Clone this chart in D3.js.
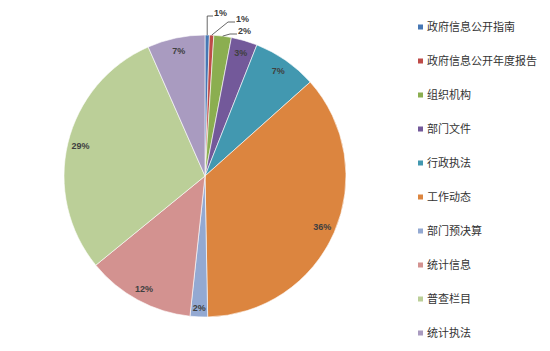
<!DOCTYPE html>
<html>
<head>
<meta charset="utf-8">
<script src="https://cdn.jsdelivr.net/npm/d3@7"></script>
<style>
    body { margin: 0; background: #fff; }
    svg { display: block; }
</style>
</head>
<body>
<div id="chart"></div>
<script>

// chart data (percent shares)
let categories = ["政府信息公开指南", "政府信息公开年度报告", "组织机构", "部门文件", "行政执法",
    "工作动态", "部门预决算", "统计信息", "普查栏目", "统计执法"];
let values = [0.5, 0.5, 2.0, 3.0, 7.4, 36.3, 2.0, 12.4, 29.3, 6.6];
let colors = ["#4677b4", "#be4b48", "#8bae50", "#73599a", "#4298b0",
    "#dc853f", "#93a9d2", "#d39290", "#bbcf98", "#a99bc0"];

// labels that sit outside with leader lines (index -> label position)
let outsideLabels = {0: [214, 13], 1: [236, 19], 2: [238, 31]};

let width = 550, height = 351;
let cx = 205, cy = 176, radius = 141;

let svg = d3.select("#chart").append("svg")
    .attr("width", width)
    .attr("height", height);

let data = categories.map((c, i) => ({name: c, value: values[i], color: colors[i]}));

let pie = d3.pie().sort(null).value(d => d.value);
let arc = d3.arc().innerRadius(0).outerRadius(radius);
let labelArc = d3.arc().innerRadius(128).outerRadius(128);

let arcs = pie(data);

let g = svg.append("g")
    .attr("transform", "translate(" + cx + "," + cy + ")");

// slices
g.selectAll("path.slice")
    .data(arcs)
    .enter()
    .append("path")
    .attr("class", "slice")
    .attr("d", arc)
    .attr("fill", d => d.data.color)
    .attr("stroke", "#fff")
    .attr("stroke-width", 0.6);

let fmt = v => Math.round(v) + "%";

// inside labels
g.selectAll("text.inner")
    .data(arcs.filter(d => !(d.index in outsideLabels)))
    .enter()
    .append("text")
    .attr("class", "inner")
    .attr("transform", d => {
        let p = labelArc.centroid(d);
        // narrow slice at the bottom sits a bit lower
        let k = (d.endAngle - d.startAngle) < 0.15 ? 132 / 128 : 1;
        return "translate(" + (p[0] * k) + "," + (p[1] * k) + ")";
    })
    .attr("text-anchor", "middle")
    .attr("dy", "0.35em")
    .style("font-family", "'Liberation Sans', Arial, sans-serif")
    .style("font-size", "9px")
    .style("font-weight", "bold")
    .style("fill", "#404040")
    .text(d => fmt(d.data.value));

// outside labels with leader lines
arcs.filter(d => d.index in outsideLabels).forEach(d => {
    let pos = outsideLabels[d.index];
    let mid = (d.startAngle + d.endAngle) / 2;
    let sx = cx + Math.sin(mid) * radius;
    let sy = cy - Math.cos(mid) * radius;
    let lx = pos[0] - 1, ly = pos[1] + 3;
    let bend = d.index === 0 ? [sx, ly] : [lx - 7, ly];
    svg.append("polyline")
        .attr("points", [[sx, sy], bend, [lx, ly]].map(p => p.join(",")).join(" "))
        .attr("fill", "none")
        .attr("stroke", "#404040")
        .attr("stroke-width", 0.8);
    svg.append("text")
        .attr("x", pos[0])
        .attr("y", pos[1])
        .attr("dy", "0.35em")
        .style("font-family", "'Liberation Sans', Arial, sans-serif")
        .style("font-size", "9px")
        .style("font-weight", "bold")
        .style("fill", "#404040")
        .text(fmt(d.data.value));
});

// legend
let legendY = d3.scalePoint().domain(categories).range([27, 333]);

let legend = svg.append("g").attr("class", "legend");

let items = legend.selectAll("g.item")
    .data(data)
    .enter()
    .append("g")
    .attr("class", "item")
    .attr("transform", d => "translate(418," + legendY(d.name) + ")");

items.append("rect")
    .attr("x", 0)
    .attr("y", -2.5)
    .attr("width", 5)
    .attr("height", 5)
    .attr("fill", d => d.color);

items.append("text")
    .attr("x", 9)
    .attr("y", 0)
    .attr("dy", "0.36em")
    .style("font-family", "'Noto Sans CJK SC', sans-serif")
    .style("font-size", "11px")
    .style("fill", "#333")
    .text(d => d.name);

</script>
</body>
</html>
